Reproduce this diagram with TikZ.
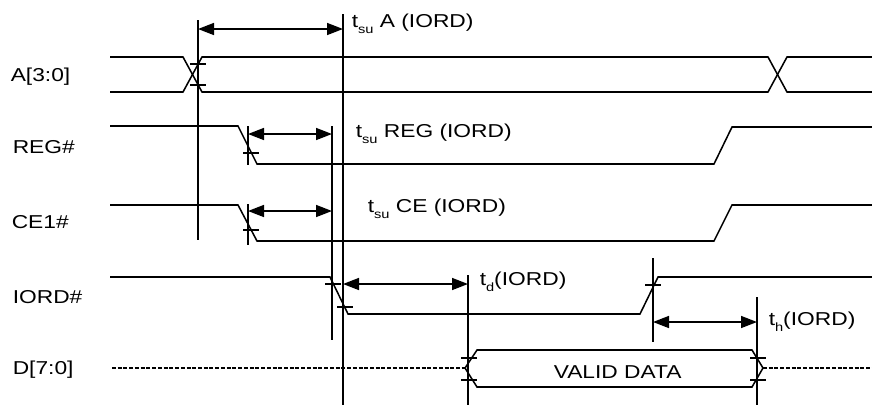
\documentclass[tikz,border=0pt]{standalone}
\usepackage{fontspec}
\setmainfont{Liberation Sans}
\usepackage{graphicx}
\usetikzlibrary{arrows.meta}
\newcommand{\wide}[1]{\scalebox{1.22}[1]{#1}}
\newcommand{\tsub}[1]{\raisebox{-4.5pt}{\fontsize{9}{9}\selectfont #1}}
\begin{document}
\begin{tikzpicture}[x=0.75pt,y=-0.75pt,line width=1.15pt,
   txt/.style={anchor=base west,inner sep=0pt,font=\fontsize{14}{16}\selectfont},
   dim/.style={{Triangle[length=12pt,width=9pt]}-{Triangle[length=12pt,width=9pt]}},
   bus/.style={line width=0.8pt,dash pattern=on 3pt off 1.3pt}]
\useasboundingbox (0,0) rectangle (872,405);
% signal names
\node[txt] (nA) at (10,81) {\wide{A[3:0]}};
\node[txt] (nREG) at (12,153) {\wide{REG\#}};
\node[txt] (nCE) at (11,228) {\wide{CE1\#}};
\node[txt] (nIORD) at (12,303) {\wide{IORD\#}};
\node[txt] (nD) at (12,374) {\wide{D[7:0]}};
% waveforms
\draw (110,57) -- (183,57) -- (202,92) -- (768,92) -- (787,57) -- (872,57);
\draw (110,92) -- (183,92) -- (202,57) -- (768,57) -- (787,92) -- (872,92);
\draw (110,126) -- (238,126) -- (257,164) -- (714,164) -- (732,127) -- (872,127);
\draw (110,205) -- (238,205) -- (257,241) -- (714,241) -- (732,205) -- (872,205);
\draw (110,277) -- (330,277) -- (348,314) -- (640,314) -- (658,277) -- (872,277);
\draw[bus] (112,368) -- (465,368);
\draw[bus] (763,368) -- (872,368);
\draw (465,368) -- (477,350) -- (752,350) -- (763,368) -- (752,387) -- (477,387) -- cycle;
\node[txt] (nVD) at (553,378) {\wide{VALID DATA}};
% reference lines
\draw (198,20) -- (198,240);
\draw (343,14) -- (343,405);
\draw (248,126) -- (248,165);
\draw (248,204) -- (248,245);
\draw (332,126) -- (332,340);
\draw (468,275) -- (468,405);
\draw (653,258) -- (653,342);
\draw (757,297) -- (757,405);
% ticks
\foreach \x/\y in {198/64,198/85,251/153,251/230,333/284,345/307,653/285,469/358,469/380,758/358,758/380}
  \draw (\x-8,\y) -- (\x+8,\y);
% timing arrows
\coordinate (a1) at (198,29); \coordinate (a2) at (343,29);
\coordinate (r1) at (248,134); \coordinate (r2) at (332,134);
\coordinate (c1) at (248,211); \coordinate (c2) at (332,211);
\coordinate (d1) at (343,284); \coordinate (d2) at (468,284);
\coordinate (h1) at (653,322); \coordinate (h2) at (757,322);
\draw[dim] (a1) -- (a2);
\draw[dim] (r1) -- (r2);
\draw[dim] (c1) -- (c2);
\draw[dim] (d1) -- (d2);
\draw[dim] (h1) -- (h2);
\node[txt] (lA) at (351,27) {\wide{t\tsub{su} A (IORD)}};
\node[txt] (lREG) at (355,137) {\wide{t\tsub{su} REG (IORD)}};
\node[txt] (lCE) at (367,212) {\wide{t\tsub{su} CE (IORD)}};
\node[txt] (ld) at (479,285) {\wide{t\tsub{d}(IORD)}};
\node[txt] (lh) at (768,325) {\wide{t\tsub{h}(IORD)}};
\end{tikzpicture}
\end{document}
